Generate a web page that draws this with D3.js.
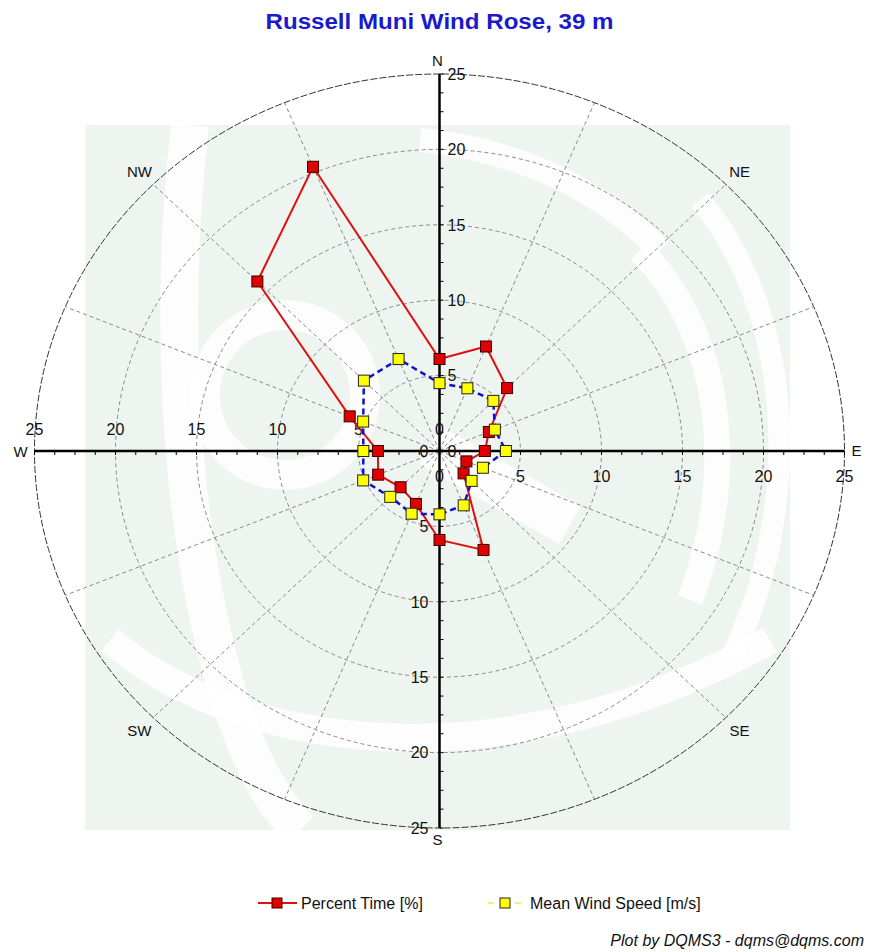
<!DOCTYPE html>
<html>
<head>
<meta charset="utf-8">
<script src="https://cdn.jsdelivr.net/npm/d3@7/dist/d3.min.js"></script>
<style>
  html, body { margin: 0; padding: 0; background: #ffffff; }
  svg { display: block; font-family: Arial, "Liberation Sans", sans-serif; }
</style>
</head>
<body>
<svg id="chart" width="869" height="952"></svg>
<script>
// ---- data ----
const directions = ["N","NNE","NE","ENE","E","ESE","SE","SSE","S","SSW","SW","WSW","W","WNW","NW","NNW"];
const percentTime = [6.1, 7.5, 5.9, 3.3, 2.8, 1.8, 2.1, 7.1, 5.9, 3.8, 3.4, 4.1, 3.8, 6.0, 15.9, 20.4];
const meanWindSpeed = [4.5, 4.5, 4.7, 3.7, 4.1, 2.9, 2.8, 3.9, 4.2, 4.5, 4.3, 5.1, 4.7, 5.1, 6.6, 6.6];
const ringValues = [5, 10, 15, 20, 25];
const tickLabels = ["0", "5", "10", "15", "20", "25"];
const compassLabels = ["N", "NE", "E", "SE", "S", "SW", "W", "NW"];
const title = "Russell Muni Wind Rose, 39 m";
const seriesNames = ["Percent Time [%]", "Mean Wind Speed [m/s]"];
const footer = "Plot by DQMS3 - dqms@dqms.com";

// ---- layout ----
const svg = d3.select("#chart");
const cx = 439.5, cy = 451;
const rMax = 25;
const rx = d3.scaleLinear().domain([0, rMax]).range([0, 405]);
const ry = d3.scaleLinear().domain([0, rMax]).range([0, 377]);
const angle = d3.scaleLinear().domain([0, directions.length]).range([0, 2 * Math.PI]);
function pt(i, v) {
  const a = angle(i);
  return [cx + rx(v) * Math.sin(a), cy - ry(v) * Math.cos(a)];
}
function ptA(a, v) {
  return [cx + rx(v) * Math.sin(a), cy - ry(v) * Math.cos(a)];
}

// ---- watermark background ----
const bg = svg.append("g");
bg.append("rect").attr("x", 85).attr("y", 125).attr("width", 705).attr("height", 705).attr("fill", "#eef4f0");
const wm = bg.append("g").attr("fill", "none").attr("stroke", "#ffffff").attr("stroke-opacity", 0.8);
wm.append("path").attr("d", "M190,125 C170,300 175,520 230,700 C250,760 270,800 300,830").attr("stroke-width", 38);
wm.append("circle").attr("cx", 285).attr("cy", 395).attr("r", 80).attr("stroke-width", 30);
wm.append("path").attr("d", "M640,250 C720,330 740,470 690,600").attr("stroke-width", 26);
wm.append("path").attr("d", "M700,200 C800,320 800,520 730,660").attr("stroke-width", 22);
wm.append("path").attr("d", "M430,445 L570,525").attr("stroke-width", 44);
wm.append("path").attr("d", "M110,640 C250,760 520,780 770,640").attr("stroke-width", 28);
wm.append("path").attr("d", "M420,140 C520,150 600,190 660,250").attr("stroke-width", 24);

// ---- grid ----
const grid = svg.append("g");
ringValues.forEach(v => {
  grid.append("ellipse")
    .attr("cx", cx).attr("cy", cy)
    .attr("rx", rx(v)).attr("ry", ry(v))
    .attr("fill", "none")
    .attr("stroke", v === rMax ? "#333333" : "#8a8a8a")
    .attr("stroke-width", 1)
    .attr("stroke-dasharray", v === rMax ? "7,2" : "4,3");
});
directions.forEach((d, i) => {
  const p = pt(i, rMax);
  grid.append("line")
    .attr("x1", cx).attr("y1", cy).attr("x2", p[0]).attr("y2", p[1])
    .attr("stroke", "#8a8a8a").attr("stroke-width", 1).attr("stroke-dasharray", "4,3");
});

// ---- axes ----
const axes = svg.append("g");
axes.append("line").attr("x1", cx - rx(rMax)).attr("x2", cx + rx(rMax)).attr("y1", cy).attr("y2", cy)
  .attr("stroke", "#000").attr("stroke-width", 2.5);
axes.append("line").attr("x1", cx).attr("x2", cx).attr("y1", cy - ry(rMax)).attr("y2", cy + ry(rMax))
  .attr("stroke", "#000").attr("stroke-width", 2.5);
const minorTicks = d3.range(0, rMax + 0.001, 1.25);
minorTicks.forEach(v => {
  [-1, 1].forEach(s => {
    axes.append("line").attr("x1", cx + s * rx(v)).attr("x2", cx + s * rx(v)).attr("y1", cy).attr("y2", cy + 4)
      .attr("stroke", "#000").attr("stroke-width", 1);
    axes.append("line").attr("y1", cy + s * ry(v)).attr("y2", cy + s * ry(v)).attr("x1", cx).attr("x2", cx + 4)
      .attr("stroke", "#000").attr("stroke-width", 1);
  });
});

// ---- axis labels ----
const lab = svg.append("g").attr("font-size", 16).attr("fill", "#111");
tickLabels.forEach(t => {
  const v = +t;
  lab.append("text").attr("x", cx + 8).attr("y", cy - ry(v)).attr("dy", "0.36em").attr("text-anchor", "start").text(t);
  lab.append("text").attr("x", cx - 11).attr("y", cy + ry(v)).attr("dy", "0.36em").attr("text-anchor", "end").text(t);
  lab.append("text").attr("x", cx - rx(v)).attr("y", cy - 22).attr("dy", "0.36em").attr("text-anchor", "middle").text(t);
  lab.append("text").attr("x", cx + rx(v)).attr("y", cy + 25).attr("dy", "0.36em").attr("text-anchor", "middle").text(t);
});

// ---- compass labels ----
const comp = svg.append("g").attr("font-size", 15).attr("fill", "#111");
compassLabels.forEach(c => {
  const idx = directions.indexOf(c);
  const a = angle(idx);
  let p;
  if (c === "N") p = [cx - 2, cy - ry(rMax) - 13];
  else if (c === "S") p = [cx - 2, cy + ry(rMax) + 12];
  else if (c === "W") p = [cx - rx(rMax) - 14, cy + 1];
  else if (c === "E") p = [cx + rx(rMax) + 12, cy];
  else p = ptA(a, 26.2);
  comp.append("text").attr("x", p[0]).attr("y", p[1]).attr("dy", "0.36em").attr("text-anchor", "middle").text(c);
});

// ---- series ----
const line = d3.line().curve(d3.curveLinearClosed);
const redPts = percentTime.map((v, i) => pt(i, v));
const ylwPts = meanWindSpeed.map((v, i) => pt(i, v));
svg.append("path").attr("d", line(redPts)).attr("fill", "none").attr("stroke", "#e01010").attr("stroke-width", 2);
svg.append("path").attr("d", line(ylwPts)).attr("fill", "none").attr("stroke", "#1010d0").attr("stroke-width", 2.5).attr("stroke-dasharray", "6,4");
const ms = 11;
svg.append("g").selectAll("rect").data(redPts).join("rect")
  .attr("x", d => d[0] - ms / 2).attr("y", d => d[1] - ms / 2).attr("width", ms).attr("height", ms)
  .attr("fill", "#e00000").attr("stroke", "#3a0000").attr("stroke-width", 1);
svg.append("g").selectAll("rect").data(ylwPts).join("rect")
  .attr("x", d => d[0] - ms / 2).attr("y", d => d[1] - ms / 2).attr("width", ms).attr("height", ms)
  .attr("fill", "#ffff00").attr("stroke", "#222").attr("stroke-width", 1);

// ---- title ----
svg.append("text").attr("x", cx).attr("y", 29).attr("text-anchor", "middle")
  .attr("font-size", 22).attr("font-weight", "bold").attr("fill", "#1a1acc")
  .attr("textLength", 348).attr("lengthAdjust", "spacingAndGlyphs").text(title);

// ---- legend ----
const lg = svg.append("g").attr("font-size", 16).attr("fill", "#111");
lg.append("line").attr("x1", 258).attr("x2", 297).attr("y1", 903).attr("y2", 903).attr("stroke", "#e01010").attr("stroke-width", 2);
lg.append("rect").attr("x", 272).attr("y", 898).attr("width", 10).attr("height", 10).attr("fill", "#e00000").attr("stroke", "#3a0000");
lg.append("text").attr("x", 301).attr("y", 903).attr("dy", "0.36em").text(seriesNames[0]);
lg.append("line").attr("x1", 488).attr("x2", 521).attr("y1", 903).attr("y2", 903).attr("stroke", "#f4f060").attr("stroke-width", 2).attr("stroke-dasharray", "6,21");
lg.append("rect").attr("x", 500).attr("y", 898).attr("width", 10).attr("height", 10).attr("fill", "#ffff00").attr("stroke", "#222");
lg.append("text").attr("x", 530).attr("y", 903).attr("dy", "0.36em").text(seriesNames[1]);

// ---- footer ----
svg.append("text").attr("x", 864).attr("y", 946).attr("text-anchor", "end")
  .attr("font-size", 16).attr("font-style", "italic").attr("fill", "#111").text(footer);
</script>
</body>
</html>
